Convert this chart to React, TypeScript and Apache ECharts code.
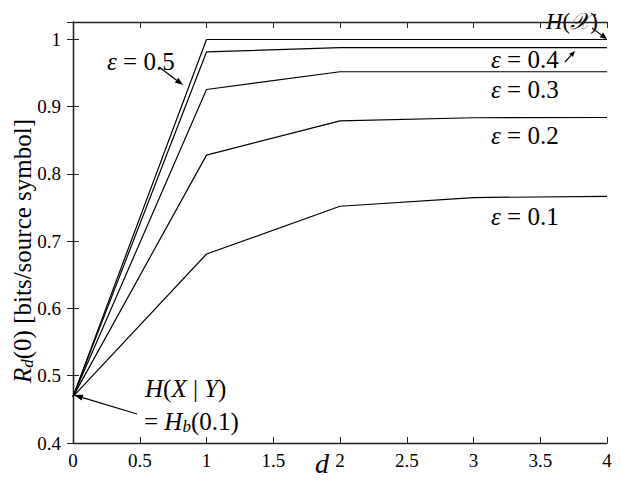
import React, { useEffect, useRef } from "react";
import * as echarts from "echarts";

const xValues = [0, 1, 2, 3, 4];
const eps05 = [0.469, 1.0, 1.0, 1.0, 1.0];
const eps04 = [0.469, 0.9815, 0.988, 0.988, 0.988];
const eps03 = [0.469, 0.9256, 0.952, 0.952, 0.952];
const eps02 = [0.469, 0.828, 0.879, 0.8836, 0.884];
const eps01 = [0.469, 0.681, 0.752, 0.765, 0.7667];
const seriesNames = ["ε = 0.5", "ε = 0.4", "ε = 0.3", "ε = 0.2", "ε = 0.1"];
const seriesValues = [eps05, eps04, eps03, eps02, eps01];

const FONT = "Liberation Serif";

function arrow(x1: number, y1: number, x2: number, y2: number, head = 8, w = 3) {
  const dx = x2 - x1;
  const dy = y2 - y1;
  const len = Math.sqrt(dx * dx + dy * dy);
  const ux = dx / len;
  const uy = dy / len;
  const bx = x2 - ux * head;
  const by = y2 - uy * head;
  const px = -uy;
  const py = ux;
  return {
    type: "group",
    children: [
      {
        type: "line",
        shape: { x1, y1, x2: bx, y2: by },
        style: { stroke: "#000", lineWidth: 1.2 },
      },
      {
        type: "polygon",
        shape: {
          points: [
            [x2, y2],
            [bx + px * w, by + py * w],
            [bx - px * w, by - py * w],
          ],
        },
        style: { fill: "#000" },
      },
    ],
  };
}

const annoRich = {
  i: { fontFamily: FONT, fontSize: 25, fontStyle: "italic", color: "#000", lineHeight: 28 },
  n: { fontFamily: FONT, fontSize: 25, color: "#000", lineHeight: 28 },
  sub: { fontFamily: FONT, fontSize: 17, fontStyle: "italic", color: "#000", lineHeight: 17, verticalAlign: "bottom" },
};

const hxRich = {
  i: { fontFamily: FONT, fontSize: 23, fontStyle: "italic", color: "#000", lineHeight: 26 },
  n: { fontFamily: FONT, fontSize: 23, color: "#000", lineHeight: 26 },
};

function epsLabel(text: string, x: number, y: number) {
  return {
    type: "text",
    x,
    y,
    style: {
      text: `{i|ε}{n| = ${text}}`,
      rich: annoRich,
      align: "left",
      verticalAlign: "middle",
    },
  };
}

export default function App() {
  const ref = useRef<HTMLDivElement>(null);
  useEffect(() => {
    document.body.style.margin = "0";
    const chart = echarts.init(ref.current!, null, { renderer: "svg" });
    const axisCommon = {
      axisLine: { show: true, lineStyle: { color: "#222", width: 1.3 } },
      axisTick: { show: true, inside: true, length: 6, lineStyle: { color: "#222", width: 1 } },
      splitLine: { show: false },
    };
    const option: any = {
      animation: false,
      backgroundColor: "#fff",
      textStyle: { fontFamily: FONT },
      grid: { left: 73, right: 16, top: 22, bottom: 53, containLabel: false },
      xAxis: [
        {
          type: "value",
          min: 0,
          max: 4,
          interval: 0.5,
          position: "bottom",
          ...axisCommon,
          axisLabel: { show: true, margin: 8, fontFamily: FONT, fontSize: 19, color: "#000" },
        },
        {
          type: "value",
          min: 0,
          max: 4,
          interval: 0.5,
          position: "top",
          ...axisCommon,
          axisLabel: { show: false },
        },
      ],
      yAxis: [
        {
          type: "value",
          min: 0.4,
          max: 1.026,
          interval: 0.1,
          position: "left",
          ...axisCommon,
          axisLabel: { show: true, margin: 12, fontFamily: FONT, fontSize: 19, color: "#000", showMaxLabel: false },
        },
        {
          type: "value",
          min: 0.4,
          max: 1.026,
          interval: 0.1,
          position: "right",
          ...axisCommon,
          axisLabel: { show: false },
        },
      ],
      series: seriesValues.map((vals, k) => ({
        name: seriesNames[k],
        type: "line",
        xAxisIndex: 0,
        yAxisIndex: 0,
        data: xValues.map((x, i) => [x, vals[i]]),
        symbol: "none",
        lineStyle: { color: "#000", width: 1.2 },
        silent: true,
      })),
      graphic: [
        {
          type: "text",
          x: 22,
          y: 251,
          rotation: Math.PI / 2,
          style: {
            text: "{i|R}{sub|d}{n|(0) [bits/source symbol]}",
            rich: {
              i: { fontFamily: FONT, fontSize: 25, fontStyle: "italic", color: "#000", lineHeight: 28 },
              n: { fontFamily: FONT, fontSize: 25, color: "#000", lineHeight: 28 },
              sub: { fontFamily: FONT, fontSize: 17, fontStyle: "italic", color: "#000", lineHeight: 17, verticalAlign: "bottom" },
            },
            align: "center",
            verticalAlign: "middle",
          },
        },
        {
          type: "text",
          x: 322,
          y: 463,
          style: {
            text: "d",
            fontFamily: FONT,
            fontSize: 28,
            fontStyle: "italic",
            fill: "#000",
            align: "center",
            verticalAlign: "middle",
          },
        },
        {
          type: "text",
          x: 546,
          y: 21,
          style: {
            text: "{i|H}{n|(}{i|𝒳}{n|)}",
            rich: hxRich,
            align: "left",
            verticalAlign: "middle",
          },
        },
        arrow(592, 28, 607, 39, 7, 3),
        epsLabel("0.5", 107, 61),
        arrow(159, 67, 183, 85, 8, 3),
        epsLabel("0.4", 491, 59),
        arrow(565, 62, 575, 51, 6, 2.5),
        epsLabel("0.3", 491, 89),
        epsLabel("0.2", 491, 135),
        epsLabel("0.1", 491, 216),
        {
          type: "text",
          x: 145,
          y: 388,
          style: {
            text: "{i|H}{n|(}{i|X}{n| | }{i|Y}{n|)}",
            rich: annoRich,
            align: "left",
            verticalAlign: "middle",
          },
        },
        {
          type: "text",
          x: 144,
          y: 421,
          style: {
            text: "{n|= }{i|H}{sub|b}{n|(0.1)}",
            rich: annoRich,
            align: "left",
            verticalAlign: "middle",
          },
        },
        arrow(137, 414, 74, 395, 9, 3),
      ],
    };
    chart.setOption(option);
    return () => chart.dispose();
  }, []);
  return (
    <div
      ref={ref}
      style={{ position: "absolute", left: 0, top: 0, width: 623, height: 496 }}
    />
  );
}
